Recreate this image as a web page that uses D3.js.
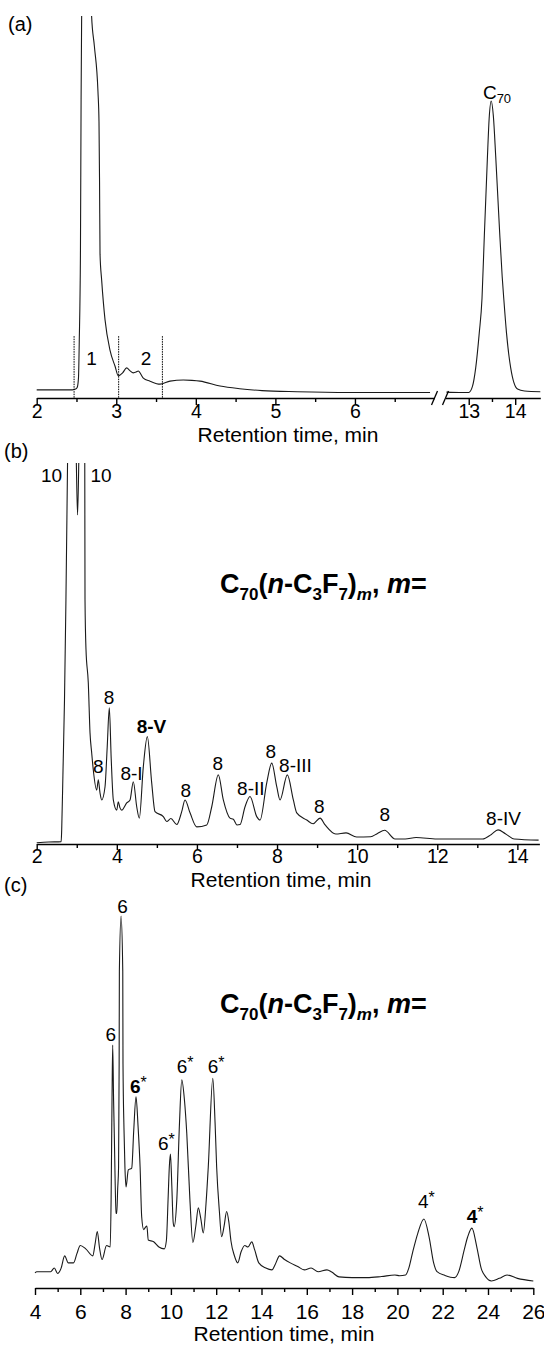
<!DOCTYPE html>
<html>
<head>
<meta charset="utf-8">
<script src="https://cdn.jsdelivr.net/npm/d3@7/dist/d3.min.js"></script>
<style>
body { margin: 0; background: #fff; }
svg text { font-family: "Liberation Sans", Arial, sans-serif; fill: #000; }
</style>
</head>
<body>
<div id="chart"></div>
<script>
// ---- values: [retention time (min), signal (% of panel height)] ----

// (a) left segment of the broken axis, 2 - 7 min
var traceA1 = [[2.00,1.1],[2.20,1.1],[2.45,1.1],[2.49,1.3],[2.51,1.8],[2.525,4.2],[2.535,14],[2.55,38],[2.558,78],
  [2.565,100],[2.60,150],[2.64,165],[2.69,100],[2.725,92],[2.77,80],[2.783,72],[2.79,56],[2.796,37],[2.817,30],
  [2.859,19.6],[2.921,11.6],[2.984,7.4],[3.026,4.8],[3.08,5.6],[3.131,6.9],[3.17,6.2],[3.214,5.6],[3.25,5.8],
  [3.277,6.1],[3.31,5.2],[3.34,4.2],[3.424,3.4],[3.55,2.6],[3.676,3.4],[3.843,3.7],[3.95,3.6],[4.053,3.4],
  [4.304,2.1],[4.55,1.4],[4.832,0.9],[5.272,0.6],[5.938,0.4],[6.944,0.4]];
// (a) right segment, C70 peak
var traceA2 = [[12.52,0.5],[12.8,0.4],[13.0,0.4],[13.08,2],[13.15,6.9],[13.226,16.1],[13.286,25.4],[13.33,40],
  [13.40,62],[13.44,73],[13.484,77.5],[13.53,73.5],[13.58,63],[13.66,44],[13.72,31],[13.753,25.4],[13.813,16.1],
  [13.903,6.9],[14.05,1.3],[14.2,0.8],[14.54,0.6]];
var cutLinesA = [2.47, 3.03, 3.58];
var cutTopA = 15.3;
var fractionLabelsA = [{t: 2.69, v: 7.8, text: "1"}, {t: 3.374, v: 7.8, text: "2"}];
var c70LabelA = {t: 13.305, v: 78};
var ticksA1 = [2, 3, 4, 5, 6], minorA1 = [2.5, 3.5, 4.5, 5.5, 6.5];
var ticksA2 = [13, 14], minorA2 = [13.5];

// (b)
var traceB = [[2.0,-0.2],[2.3,0],[2.61,0.1],[2.624,3.2],[2.657,19],[2.694,37.5],[2.73,63.9],[2.77,100],[2.83,150],
  [2.88,170],[2.95,130],[2.99,100],[3.02,86.3],[3.05,100],[3.10,150],[3.13,160],[3.18,130],[3.20,100],[3.206,64],
  [3.231,50.7],[3.288,42],[3.331,28.8],[3.373,23.5],[3.413,19],[3.498,13.7],[3.538,16.4],[3.58,13],[3.623,11.1],
  [3.705,14.5],[3.76,25],[3.813,35.4],[3.86,22],[3.913,11.1],[3.998,8.4],[4.037,10.6],[4.08,9],[4.122,8.4],
  [4.247,10.3],[4.33,11.1],[4.412,15.9],[4.497,9.3],[4.562,6.3],[4.662,19.9],[4.762,27.8],[4.871,15.6],[4.954,8],
  [5.161,6.7],[5.246,5.4],[5.35,6.2],[5.496,4.6],[5.62,8],[5.703,11.1],[5.828,7.7],[5.995,4],[6.245,4.5],
  [6.37,9.3],[6.534,17.7],[6.659,11.1],[6.826,6.3],[6.909,6],[7.0,4.5],[7.076,4.6],[7.201,9.3],[7.326,12],
  [7.493,6.7],[7.576,5.8],[7.743,15.6],[7.868,20.8],[7.993,14.6],[8.075,11.1],[8.257,17.7],[8.407,11.1],
  [8.492,7.7],[8.742,5.8],[8.9,4.8],[9.074,6.3],[9.2,4.5],[9.466,2.1],[9.723,2.4],[9.988,1.3],[10.337,1.4],
  [10.5,2.2],[10.687,3.1],[10.946,0.8],[11.2,0.8],[11.471,1.2],[11.995,0.8],[13.131,0.8],[13.35,2],[13.518,3.2],
  [13.7,2.2],[13.918,0.8],[14.53,0.5]];
var ticksB = [2, 4, 6, 8, 10, 12, 14], minorB = [3, 5, 7, 9, 11, 13];
var peakLabelsB = [
  {t: 2.37, v: 95, text: "10"}, {t: 3.605, v: 95, text: "10"},
  {t: 3.538, v: 18.2, text: "8"}, {t: 3.805, v: 36.3, text: "8"},
  {t: 4.367, v: 16.4, text: "8-I"}, {t: 5.72, v: 12, text: "8"},
  {t: 6.52, v: 19, text: "8"}, {t: 7.346, v: 12.4, text: "8-II"},
  {t: 7.843, v: 22.2, text: "8"}, {t: 8.46, v: 18.6, text: "8-III"},
  {t: 9.056, v: 7.7, text: "8"}, {t: 10.687, v: 5.5, text: "8"},
  {t: 13.655, v: 4.6, text: "8-IV"}];
var boldLabelsB = [{t: 4.864, v: 28.8, text: "8-V"}];

// (c)
var traceC = [[4.0,3.3],[4.08,3.6],[4.4,3.6],[4.69,3.6],[4.85,4.6],[5.0,3.1],[5.15,4.5],[5.31,7.9],[5.47,6.0],
  [5.70,6.0],[5.85,8.5],[6.0,10.7],[6.24,9.8],[6.55,7.9],[6.65,11],[6.75,14.5],[6.85,10],[6.96,6.9],[7.16,10.7],
  [7.32,10.3],[7.36,23],[7.40,50],[7.43,65],[7.47,50],[7.50,41],[7.58,19.5],[7.61,19.4],[7.65,26],[7.69,32],
  [7.715,60],[7.725,85],[7.80,100],[7.875,85],[7.885,60],[7.93,42],[7.97,32],[8.02,26.6],[8.12,31.2],[8.27,31.7],
  [8.36,42],[8.46,51],[8.55,43],[8.64,32],[8.71,18.5],[8.80,15],[8.86,15.5],[8.94,16],[9.0,12.2],[9.24,11.7],
  [9.47,10.3],[9.71,9.8],[9.80,12],[9.88,24],[9.93,32],[9.98,35.5],[10.04,27],[10.1,17],[10.14,15.8],[10.26,23],
  [10.38,44],[10.48,55.6],[10.60,50],[10.70,41.2],[10.84,23],[10.97,11.5],[11.1,16],[11.21,20.9],[11.32,18],
  [11.43,14.1],[11.55,22],[11.65,32],[11.85,56],[11.95,44],[12.02,32],[12.14,20],[12.24,13.1],[12.35,16],
  [12.46,19.9],[12.56,17],[12.65,12],[12.8,8],[12.95,6],[13.1,9],[13.26,10.7],[13.4,10.3],[13.57,11.7],[13.7,9.5],
  [13.88,6],[14.19,4.6],[14.46,4.1],[14.6,5.5],[14.80,7.9],[15.0,7.0],[15.27,6],[15.6,5],[15.89,4.1],[16.19,4.6],
  [16.50,3.6],[16.89,4.1],[17.1,3.5],[17.42,2.2],[18.0,2.0],[18.66,2.0],[19.3,2.3],[19.89,2.7],[20.1,2.5],
  [20.36,2.7],[20.5,4.5],[20.67,8.8],[20.9,14],[21.17,17.9],[21.4,13],[21.6,6],[21.75,3.6],[22.1,2.6],[22.52,2.0],
  [22.7,3.5],[22.95,9.5],[23.1,13],[23.29,15.4],[23.5,10.5],[23.7,4.5],[23.9,2.2],[24.15,1.1],[24.5,1.8],
  [24.84,2.7],[25.3,1.8],[26.0,1.1]];
var ticksC = [4, 6, 8, 10, 12, 14, 16, 18, 20, 22, 24, 26];
var minorC = [5, 7, 9, 11, 13, 15, 17, 19, 21, 23, 25];
var plainLabelsC = [{t: 7.863, v: 100.8, text: "6"}, {t: 7.347, v: 66, text: "6"}];
var starLabelsC = [{t: 9.43, v: 36.6, text: "6"}, {t: 10.256, v: 57.5, text: "6"},
  {t: 11.625, v: 57.5, text: "6"}, {t: 20.91, v: 20.9, text: "4"}];
var boldStarLabelsC = [{t: 8.194, v: 52, text: "6"}, {t: 23.06, v: 16.8, text: "4"}];

var width = 544, height = 1352;
var lineColor = "#1a1a1a";

var svg = d3.select("#chart").append("svg")
  .attr("width", width)
  .attr("height", height);

// scales
var xA1 = d3.scaleLinear().domain([2, 7.0]).range([36.7, 434.5]);
var xA2 = d3.scaleLinear().domain([12.5, 14.54]).range([445.5, 540.3]);
var yA = d3.scaleLinear().domain([0, 100]).range([394, 16]);
var axisYA = 398;

var xB = d3.scaleLinear().domain([2, 14.55]).range([36.7, 539.4]);
var yB = d3.scaleLinear().domain([0, 100]).range([842, 463]);
var axisYB = 844;

var xC = d3.scaleLinear().domain([4, 26]).range([35, 533.3]);
var yC = d3.scaleLinear().domain([0, 100]).range([1285, 916]);
var axisYC = 1288;

// clip the overloaded peaks at the panel tops
var defs = svg.append("defs");
defs.append("clipPath").attr("id", "clipA")
  .append("rect").attr("x", 0).attr("y", yA(100)).attr("width", width).attr("height", axisYA - yA(100));
defs.append("clipPath").attr("id", "clipB")
  .append("rect").attr("x", 0).attr("y", yB(100)).attr("width", width).attr("height", axisYB - yB(100));

function drawTrace(data, x, y, clip) {
  var line = d3.line()
    .x(function(d) { return x(d[0]); })
    .y(function(d) { return y(d[1]); })
    .curve(d3.curveMonotoneX);
  var p = svg.append("path")
    .datum(data)
    .attr("d", line)
    .attr("fill", "none")
    .attr("stroke", lineColor)
    .attr("stroke-width", 1.1)
    .attr("stroke-linejoin", "round");
  if (clip) p.attr("clip-path", "url(#" + clip + ")");
}

function drawAxis(x, y0, ticks, minor, tickSize, pad, fontSize) {
  var g = svg.append("g")
    .attr("transform", "translate(0," + y0 + ")")
    .call(d3.axisBottom(x).tickValues(ticks).tickSize(tickSize).tickSizeOuter(0).tickPadding(pad)
      .tickFormat(d3.format("d")));
  g.select(".domain").attr("stroke", "#000").attr("stroke-width", 1.4);
  g.selectAll(".tick line").attr("stroke", "#000").attr("stroke-width", 1.4);
  g.selectAll(".tick text")
    .style("font-family", "'Liberation Sans', Arial, sans-serif")
    .style("font-size", fontSize + "px")
    .attr("fill", "#000");
  var m = svg.append("g")
    .attr("transform", "translate(0," + y0 + ")")
    .call(d3.axisBottom(x).tickValues(minor).tickSize(4).tickFormat(""));
  m.select(".domain").remove();
  m.selectAll(".tick line").attr("stroke", "#000").attr("stroke-width", 1.4);
}

function addText(x, y, txt, size, anchor, weight) {
  return svg.append("text")
    .attr("x", x)
    .attr("y", y)
    .attr("text-anchor", anchor || "start")
    .style("font-size", size + "px")
    .style("font-weight", weight || "normal")
    .text(txt);
}

function formula(x, y) {
  var t = svg.append("text")
    .attr("x", x).attr("y", y)
    .style("font-size", "27px")
    .style("font-weight", "bold")
    .style("white-space", "pre");
  t.append("tspan").text("C");
  t.append("tspan").attr("dy", 7).style("font-size", "17px").text("70");
  t.append("tspan").attr("dy", -7).text("(");
  t.append("tspan").style("font-style", "italic").text("n");
  t.append("tspan").text("-C");
  t.append("tspan").attr("dy", 7).style("font-size", "17px").text("3");
  t.append("tspan").attr("dy", -7).text("F");
  t.append("tspan").attr("dy", 7).style("font-size", "17px").text("7");
  t.append("tspan").attr("dy", -7).text(")");
  t.append("tspan").attr("dy", 7).style("font-size", "17px").style("font-style", "italic").text("m");
  t.append("tspan").attr("dy", -7).text(", ");
  t.append("tspan").style("font-style", "italic").text("m");
  t.append("tspan").text("=");
}

function starLabel(x, y, num, bold) {
  var t = svg.append("text")
    .attr("x", x).attr("y", y)
    .style("font-size", "19px");
  t.append("tspan").style("font-weight", bold ? "bold" : "normal").text(num);
  t.append("tspan").attr("dy", -5).style("font-size", "16px").text("*");
}

// ---------------- panel (a) ----------------
addText(8, 31, "(a)", 20);
drawTrace(traceA1, xA1, yA, "clipA");
drawTrace(traceA2, xA2, yA, "clipA");

cutLinesA.forEach(function(t) {
  svg.append("line")
    .attr("x1", xA1(t)).attr("x2", xA1(t))
    .attr("y1", yA(cutTopA)).attr("y2", axisYA)
    .attr("stroke", "#000")
    .attr("stroke-width", 1)
    .attr("stroke-dasharray", "1.5,1");
});
fractionLabelsA.forEach(function(d) {
  addText(xA1(d.t), yA(d.v), d.text, 19, "middle");
});

var c70 = svg.append("text")
  .attr("x", xA2(c70LabelA.t)).attr("y", yA(c70LabelA.v))
  .style("font-size", "19px");
c70.append("tspan").text("C");
c70.append("tspan").attr("dy", 4).style("font-size", "13px").text("70");

drawAxis(xA1, axisYA, ticksA1, minorA1, 7, -1, 19.5);
drawAxis(xA2, axisYA, ticksA2, minorA2, 7, -1, 19.5);

// axis break marks
[xA1.range()[1], xA2.range()[0]].forEach(function(bx) {
  svg.append("line")
    .attr("x1", bx - 3).attr("y1", axisYA + 7)
    .attr("x2", bx + 3).attr("y2", axisYA - 7)
    .attr("stroke", "#000")
    .attr("stroke-width", 1.3);
});
addText(288, 442, "Retention time, min", 21, "middle");

// ---------------- panel (b) ----------------
addText(4, 458, "(b)", 20);
drawTrace(traceB, xB, yB, "clipB");
peakLabelsB.forEach(function(d) {
  addText(xB(d.t), yB(d.v), d.text, 19, "middle");
});
boldLabelsB.forEach(function(d) {
  addText(xB(d.t), yB(d.v), d.text, 19, "middle", "bold");
});
formula(220, 593);
drawAxis(xB, axisYB, ticksB, minorB, 6, -1, 19.5);
addText(281, 887, "Retention time, min", 21, "middle");

// ---------------- panel (c) ----------------
addText(4, 892, "(c)", 20);
drawTrace(traceC, xC, yC);
plainLabelsC.forEach(function(d) {
  addText(xC(d.t), yC(d.v), d.text, 19, "middle");
});
starLabelsC.forEach(function(d) {
  starLabel(xC(d.t), yC(d.v), d.text, false);
});
boldStarLabelsC.forEach(function(d) {
  starLabel(xC(d.t), yC(d.v), d.text, true);
});
formula(220, 1013);
drawAxis(xC, axisYC, ticksC, minorC, 7, 9, 21);
addText(284, 1341, "Retention time, min", 21, "middle");
</script>
</body>
</html>
